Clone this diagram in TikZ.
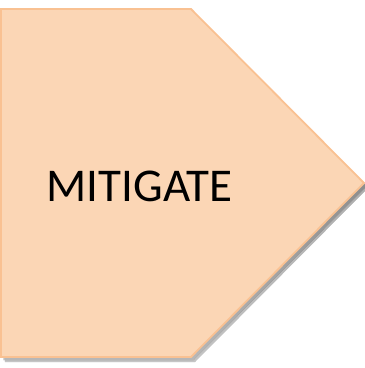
\documentclass[tikz,border=0pt]{standalone}
\usepackage{fontspec}
\setmainfont{Carlito}
\definecolor{peach}{RGB}{251,214,181}
\definecolor{peachline}{RGB}{249,193,146}
\definecolor{shade}{RGB}{205,205,205}
\tikzset{
  plate/.style={fill=peach, draw=peachline, line width=1.8pt, line join=miter},
  label/.style={font=\fontsize{47}{47}\selectfont, text=black, inner sep=0pt, anchor=base}
}
\begin{document}
\begin{tikzpicture}[x=1pt, y=-1pt]
  \useasboundingbox (0,0) rectangle (365,368);
  % soft drop shadow under the arrow plate
  \begin{scope}[shift={(4,5)}]
    \fill[shade, opacity=0.35] (1,9) -- (191,9) -- (364,183) -- (191,357) -- (1,357) -- cycle;
  \end{scope}
  \begin{scope}[shift={(2.5,3)}]
    \fill[shade, opacity=0.6] (1,9) -- (191,9) -- (364,183) -- (191,357) -- (1,357) -- cycle;
  \end{scope}
  % the arrow plate
  \draw[plate] (1,9) -- (191,9) -- (364,183) -- (191,357) -- (1,357) -- cycle;
  \node[label] (mitigate) at (139.5,201) {MITIGATE};
\end{tikzpicture}
\end{document}
